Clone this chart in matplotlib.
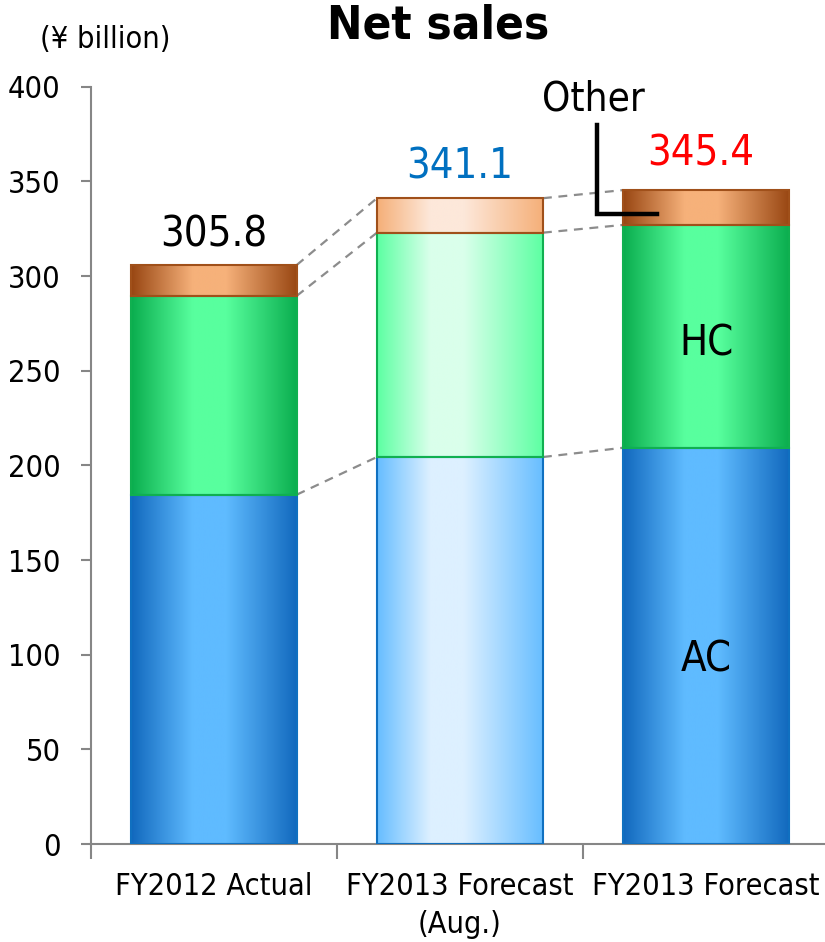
import matplotlib
matplotlib.use("Agg")
import matplotlib.pyplot as plt
import numpy as np
from matplotlib.colors import LinearSegmentedColormap

# Data (¥ billion)
categories = ["FY2012 Actual", "FY2013 Forecast\n(Aug.)", "FY2013 Forecast"]
ac = [184.5, 204.4, 209.3]
hc = [105.0, 118.5, 117.7]
other = [16.3, 18.2, 18.4]
totals = [305.8, 341.1, 345.4]
total_colors = ["black", "#0070C0", "#FF0000"]

plt.rcParams['font.family'] = ['DejaVu Sans']
plt.rcParams['font.stretch'] = 'condensed'


def make_cmap(edge, center, pos=0.45):
    return LinearSegmentedColormap.from_list(
        "g", [(0, edge), (pos - 0.08, center), (pos + 0.12, center), (1, edge)])


# gradients: solid bars (actual / forecast) and pale bar (Aug. forecast)
dark = {
    "ac": make_cmap("#1168BD", "#5FBBFF"),
    "hc": make_cmap("#0AAD4E", "#58FF9E"),
    "other": make_cmap("#984612", "#F6B17A"),
}
light = {
    "ac": make_cmap("#66BDFF", "#DDF0FF", 0.4),
    "hc": make_cmap("#5CFFA2", "#DAFFEB", 0.4),
    "other": make_cmap("#F5AF78", "#FDE8DA", 0.4),
}
styles = [dark, light, dark]
edges = {"ac": "#1070C0", "hc": "#10B050", "other": "#A0501A"}


def shade(ax, patch, cmap):
    x0, y0 = patch.get_x(), patch.get_y()
    grad = np.linspace(0, 1, 256)[None, :]
    im = ax.imshow(grad, cmap=cmap, aspect='auto', interpolation='bilinear',
                   extent=[x0, x0 + patch.get_width(), y0, y0 + patch.get_height()],
                   zorder=2.5)
    im.set_clip_path(patch)


fig = plt.figure(figsize=(8.25, 9.42), dpi=100)
ax = fig.add_axes([90.5 / 825, 1 - 844 / 942, 3 * 246.3 / 825, (844 - 86.7) / 942])

x = np.arange(len(categories))
w = 0.674

layers = [("ac", ac), ("hc", hc), ("other", other)]
bottom = np.zeros(len(categories))
tops = []
for key, vals in layers:
    bars = ax.bar(x, vals, w, bottom=bottom, facecolor='none',
                  edgecolor=edges[key], linewidth=1.5, zorder=3)
    for i, b in enumerate(bars):
        shade(ax, b, styles[i][key])
    bottom = bottom + np.array(vals)
    tops.append(bottom.copy())

# dashed connectors between bar segments
for top in tops:
    for i in range(len(x) - 1):
        ax.plot([x[i] + w / 2, x[i + 1] - w / 2], [top[i], top[i + 1]],
                ls=(0, (4, 3)), color='#8C8C8C', lw=1.6, zorder=2)

# value labels
offsets = [(0, 13), (0, 14.5), (-4, 18)]
for i, t in enumerate(totals):
    ax.annotate("%.1f" % t, (x[i], tops[-1][i]), xytext=offsets[i],
                textcoords='offset points', ha='center', va='baseline',
                fontsize=30, color=total_colors[i])

# segment names on the last bar
ax.text(x[2], ac[2] + hc[2] / 2 - 4, "HC", ha='center', va='center', fontsize=30)
ax.text(x[2], ac[2] / 2 - 7, "AC", ha='center', va='center', fontsize=30)

# "Other" callout
oth_mid = tops[1][2] + other[2] * 0.32
left = x[2] - w / 2
ax.plot([left - 0.107, left - 0.107, left + 0.137], [380, oth_mid, oth_mid],
        color='black', lw=3.2, solid_joinstyle='miter', zorder=4)
ax.text(left - 0.123, 393, "Other", ha='center', va='center', fontsize=29)

ax.set_xlim(-0.5, 2.5)
ax.set_ylim(0, 400)

ax.set_xticks([-0.5, 0.5, 1.5, 2.5])
ax.set_xticklabels([])
ax.tick_params(axis='x', which='major', length=11, width=1.5, color='#868686')
ax.set_xticks(x, minor=True)
ax.set_xticklabels(categories, minor=True, fontsize=22, linespacing=1.4)
ax.tick_params(axis='x', which='minor', length=0, pad=20)

ax.set_yticks(np.arange(0, 401, 50))
ax.tick_params(axis='y', length=7.5, width=1.5, color='#868686', pad=14, labelsize=22)

for s in ['top', 'right']:
    ax.spines[s].set_visible(False)
for s in ['left', 'bottom']:
    ax.spines[s].set_color('#868686')
    ax.spines[s].set_linewidth(1.5)

fig.text(438 / 825, 1 - 26 / 942, "Net sales", ha='center', va='center',
         fontsize=34, fontweight='bold')
fig.text(40 / 825, 1 - 40 / 942, "(¥ billion)", ha='left', va='center', fontsize=22)

fig.savefig("out.png", dpi=100)
